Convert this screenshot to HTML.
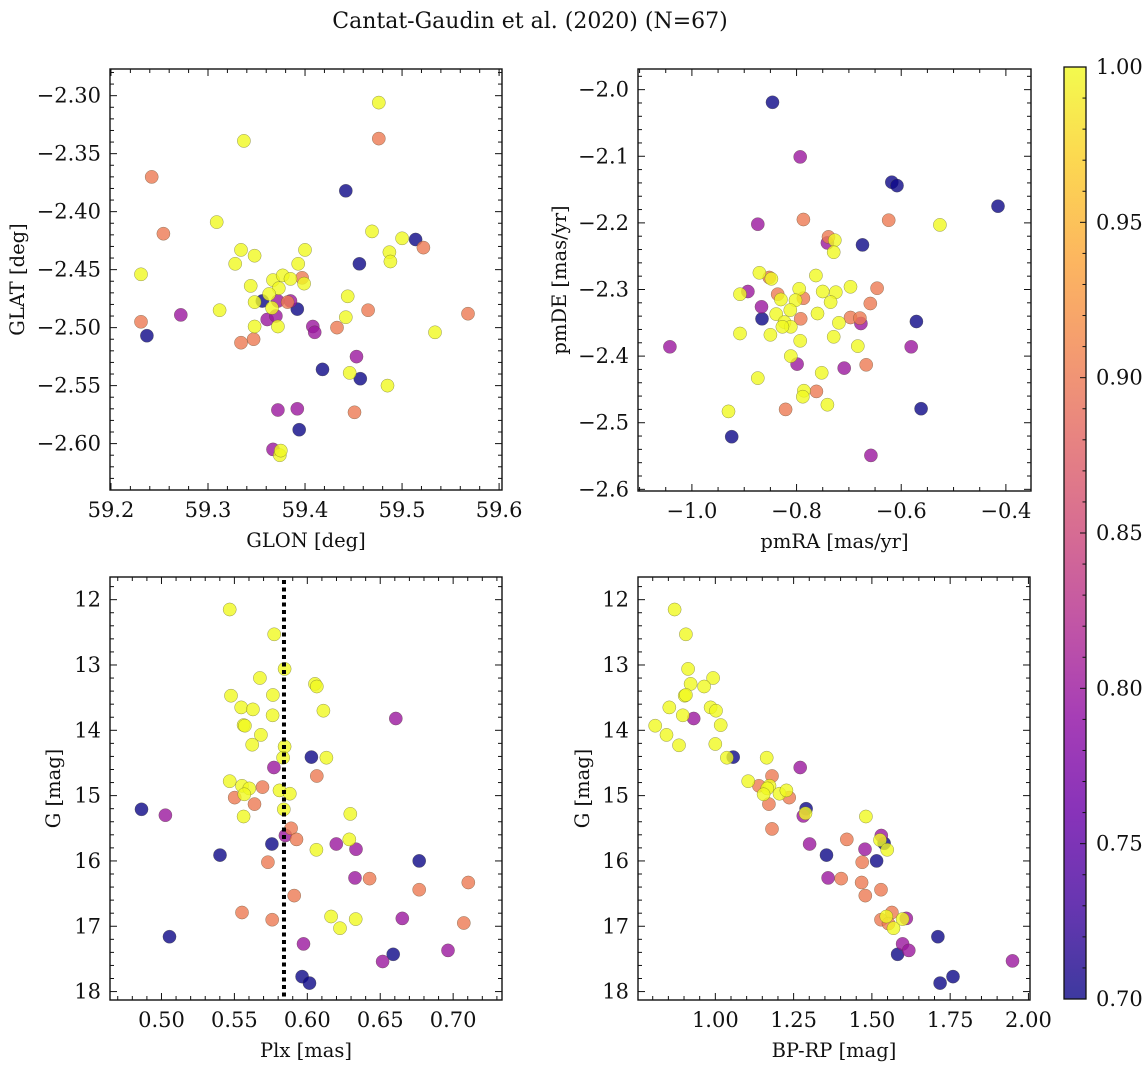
<!DOCTYPE html>
<html><head><meta charset="utf-8"><style>
html,body{margin:0;padding:0;background:#fff;}
svg{display:block;font-family:"DejaVu Serif","Liberation Serif",serif;}
</style></head><body>
<svg id="fig" width="1148" height="1067" viewBox="0 0 1148 1067" xmlns="http://www.w3.org/2000/svg">
<text x="530" y="28" text-anchor="middle" font-size="22" fill="#111">Cantat-Gaudin et al. (2020) (N=67)</text>
</svg>
<script>
// ---- Panel 1: GLON vs GLAT ----
const glonTL=[59.476,59.476,59.337,59.242,59.442,59.309,59.254,59.469,59.500,59.514,59.522,59.487,59.488,59.334,59.348,59.328,59.400,59.393,59.456,59.231,59.367,59.377,59.385,59.397,59.399,59.344,59.373,59.363,59.444,59.356,59.372,59.348,59.385,59.382,59.392,59.366,59.312,59.465,59.568,59.272,59.231,59.361,59.370,59.442,59.348,59.372,59.408,59.410,59.433,59.534,59.237,59.347,59.334,59.453,59.418,59.446,59.457,59.485,59.372,59.392,59.451,59.394,59.367,59.374,59.375];
const glatTL=[-2.306,-2.337,-2.339,-2.370,-2.382,-2.409,-2.419,-2.417,-2.423,-2.424,-2.431,-2.435,-2.443,-2.433,-2.438,-2.445,-2.433,-2.445,-2.445,-2.454,-2.459,-2.455,-2.458,-2.457,-2.462,-2.464,-2.466,-2.471,-2.473,-2.477,-2.477,-2.478,-2.477,-2.478,-2.484,-2.483,-2.485,-2.485,-2.488,-2.489,-2.495,-2.493,-2.490,-2.491,-2.499,-2.499,-2.499,-2.504,-2.500,-2.504,-2.507,-2.510,-2.513,-2.525,-2.536,-2.539,-2.544,-2.550,-2.571,-2.570,-2.573,-2.588,-2.605,-2.610,-2.606];
const probTL=[1,.9,1,.9,.7,1,.9,1,1,.7,.9,1,1,1,1,1,1,1,.7,1,1,1,1,.9,1,1,1,1,1,.7,.8,1,.8,.9,.7,1,1,.9,.9,.8,.9,.8,.8,1,1,1,.8,.8,.9,1,.7,.9,.9,.8,.7,1,.7,1,.8,.8,.9,.7,.8,1,1];
const ticksGlon=[59.2,59.3,59.4,59.5,59.6];
const ticksGlat=[-2.30,-2.35,-2.40,-2.45,-2.50,-2.55,-2.60];

// ---- Panel 2: pmRA vs pmDE ----
const pmraTR=[-0.846,-0.793,-0.618,-0.608,-0.415,-0.526,-0.624,-0.787,-0.874,-0.739,-0.741,-0.727,-0.729,-0.674,-0.871,-0.852,-0.848,-0.763,-0.646,-0.697,-0.795,-0.750,-0.725,-0.893,-0.908,-0.836,-0.787,-0.830,-0.802,-0.735,-0.659,-0.867,-0.812,-0.839,-0.760,-0.866,-0.792,-0.823,-0.811,-0.827,-0.719,-0.697,-0.677,-0.679,-0.571,-0.908,-0.850,-0.729,-0.793,-1.042,-0.683,-0.581,-0.811,-0.799,-0.667,-0.709,-0.752,-0.874,-0.762,-0.786,-0.788,-0.741,-0.821,-0.562,-0.930,-0.924,-0.658];
const pmdeTR=[-2.019,-2.101,-2.139,-2.144,-2.175,-2.203,-2.196,-2.195,-2.202,-2.221,-2.230,-2.226,-2.244,-2.233,-2.275,-2.282,-2.284,-2.279,-2.298,-2.296,-2.299,-2.303,-2.304,-2.303,-2.307,-2.307,-2.313,-2.315,-2.316,-2.319,-2.321,-2.326,-2.331,-2.337,-2.336,-2.344,-2.344,-2.349,-2.356,-2.356,-2.350,-2.342,-2.351,-2.343,-2.348,-2.366,-2.368,-2.371,-2.377,-2.386,-2.385,-2.386,-2.400,-2.412,-2.413,-2.418,-2.425,-2.433,-2.453,-2.452,-2.461,-2.473,-2.480,-2.479,-2.483,-2.521,-2.549];
const probTR=[.7,.8,.7,.7,.7,1,.9,.9,.8,.9,.8,1,1,.7,1,.9,1,1,.9,1,1,1,1,.8,1,.9,.9,1,1,1,.9,.8,1,1,1,.7,.9,1,1,1,1,.9,.8,.9,.7,1,1,1,1,.8,1,.8,1,.8,.9,.8,1,1,.9,1,1,1,.9,.7,1,.7,.8];
const ticksPmra=[-1.0,-0.8,-0.6,-0.4];
const ticksPmde=[-2.0,-2.1,-2.2,-2.3,-2.4,-2.5,-2.6];

// ---- Panel 3: Plx vs G ----
const plxBL=[0.5468,0.5773,0.5844,0.5675,0.6053,0.6065,0.5477,0.5764,0.5547,0.5627,0.6110,0.5762,0.6607,0.5563,0.5572,0.5682,0.5622,0.5844,0.5834,0.6028,0.6131,0.5771,0.6065,0.5468,0.5552,0.5602,0.5693,0.5568,0.5502,0.5809,0.5880,0.5638,0.4863,0.5027,0.5839,0.5563,0.6295,0.5889,0.5850,0.5926,0.6288,0.5757,0.6199,0.6062,0.6334,0.5401,0.5730,0.6767,0.6327,0.6427,0.6767,0.7104,0.5910,0.5552,0.5759,0.6163,0.6332,0.6651,0.7073,0.6224,0.5055,0.5974,0.6965,0.6589,0.6516,0.5964,0.6015];
const gBL=[12.15,12.53,13.06,13.20,13.29,13.33,13.47,13.46,13.65,13.68,13.70,13.77,13.82,13.92,13.93,14.07,14.22,14.25,14.42,14.41,14.42,14.57,14.70,14.78,14.85,14.89,14.87,14.98,15.03,14.92,14.97,15.13,15.21,15.30,15.21,15.32,15.28,15.50,15.61,15.67,15.67,15.74,15.74,15.83,15.82,15.91,16.02,16.00,16.26,16.27,16.44,16.33,16.53,16.79,16.90,16.85,16.89,16.88,16.95,17.03,17.16,17.27,17.37,17.43,17.54,17.77,17.87];
const probBL=[1,1,1,1,1,1,1,1,1,1,1,1,.8,1,1,1,1,1,1,.7,1,.8,.9,1,1,1,.9,1,.9,1,1,.9,.7,.8,1,1,1,.9,.8,.9,1,.7,.8,1,.8,.7,.9,.7,.8,.9,.9,.9,.9,.9,.9,1,1,.8,.9,1,.7,.8,.8,.7,.8,.7,.7];
const plxMean=[0.584];
const ticksPlx=[0.50,0.55,0.60,0.65,0.70];
const ticksG=[12,13,14,15,16,17,18];

// ---- Panel 4: BP-RP vs G ----
const bprpBR=[0.870,0.906,0.913,0.993,0.921,0.964,0.902,0.906,0.853,0.985,1.002,0.896,0.931,0.808,1.017,0.844,0.884,1.000,1.057,1.037,1.164,1.271,1.181,1.105,1.139,1.173,1.166,1.154,1.205,1.227,1.236,1.171,1.290,1.281,1.288,1.481,1.181,1.530,1.539,1.526,1.420,1.301,1.549,1.478,1.355,1.515,1.469,1.360,1.402,1.467,1.529,1.479,1.564,1.529,1.610,1.546,1.598,1.553,1.569,1.711,1.598,1.618,1.582,1.949,1.759,1.718];
const gBR=[12.15,12.53,13.06,13.20,13.29,13.33,13.47,13.46,13.65,13.65,13.70,13.77,13.82,13.93,13.92,14.07,14.23,14.21,14.41,14.42,14.42,14.57,14.70,14.78,14.85,14.85,14.89,14.98,14.97,14.92,15.03,15.13,15.20,15.31,15.27,15.32,15.51,15.61,15.73,15.68,15.67,15.74,15.83,15.82,15.91,16.00,16.02,16.26,16.27,16.33,16.44,16.53,16.79,16.90,16.88,16.85,16.89,16.96,17.03,17.16,17.27,17.37,17.43,17.53,17.77,17.87];
const probBR=[1,1,1,1,1,1,1,1,1,1,1,1,.8,1,1,1,1,1,.7,1,1,.8,.9,1,.9,1,1,1,1,1,.9,.9,.7,.8,1,1,.9,.8,.7,1,.9,.8,1,.8,.7,.7,.9,.8,.9,.9,.9,.9,.9,.9,.8,1,1,.9,1,.7,.8,.8,.7,.8,.7,.7];
const ticksBprp=[1.00,1.25,1.50,1.75,2.00];

// ---- Colorbar ----
const cbTicks=[0.70,0.75,0.80,0.85,0.90,0.95,1.00];
const cbMin=0.70, cbMax=1.00;

const NS="http://www.w3.org/2000/svg";
const svg=document.getElementById('fig');
function mk(tag,attrs,parent){const e=document.createElementNS(NS,tag);for(const k in attrs)e.setAttribute(k,attrs[k]);(parent||svg).appendChild(e);return e;}
const plasma=[[13,8,135],[65,4,157],[106,0,168],[143,13,164],[177,42,144],[204,71,120],[225,100,98],[242,132,75],[252,166,54],[252,206,37],[240,249,33]];
function cmap(p){let t=(p-cbMin)/(cbMax-cbMin);t=Math.max(0,Math.min(1,t));const f=t*10,i=Math.min(9,Math.floor(f)),u=f-i;const a=plasma[i],b=plasma[i+1];return 'rgb('+[0,1,2].map(k=>Math.round(a[k]+(b[k]-a[k])*u)).join(',')+')';}
function fmt(v,d){const s=Math.abs(v).toFixed(d);return (v<-1e-9?'\u2212':'')+s;}
const TICKFS=21, LABFS=19.5;

function panel(o){
  const g=mk('g',{});
  
  
  const sx=v=>o.x0+(v-o.xlim[0])/(o.xlim[1]-o.xlim[0])*(o.x1-o.x0);
  const sy=v=>o.y1-(v-o.ylim[0])/(o.ylim[1]-o.ylim[0])*(o.y1-o.y0);
  const clipId='clip-'+o.name;
  const cp=mk('clipPath',{id:clipId},g);
  mk('rect',{x:o.x0,y:o.y0,width:o.x1-o.x0,height:o.y1-o.y0},cp);
  const idx=o.xs.map((_,i)=>i).sort((a,b)=>o.ps[a]-o.ps[b]);
  const pg=mk('g',{'clip-path':'url(#'+clipId+')'},g);
  idx.forEach(i=>{
    const c=mk('circle',{cx:sx(o.xs[i]).toFixed(1),cy:sy(o.ys[i]).toFixed(1),r:6.6,fill:cmap(o.ps[i]),'fill-opacity':0.8,stroke:'rgba(70,70,40,0.55)','stroke-width':0.5},pg);
    
    
  });
  if(o.vline){o.vline.forEach(v=>{
    const l=mk('line',{x1:sx(v),x2:sx(v),y1:o.y0,y2:o.y1,stroke:'#000','stroke-width':4,'stroke-dasharray':'4,3.5'},pg);
    
    
  });}
  const fr=mk('rect',{x:o.x0,y:o.y0,width:o.x1-o.x0,height:o.y1-o.y0,fill:'none',stroke:'#111','stroke-width':1.4},g);
  
  
  const lo=Math.min(o.xlim[0],o.xlim[1]),hi=Math.max(o.xlim[0],o.xlim[1]);
  for(let k=Math.ceil(lo/o.xminor-1e-6);k*o.xminor<=hi+1e-9;k++){const v=k*o.xminor,x=sx(v);const maj=o.xt.some(t=>Math.abs(t-v)<o.xminor/10);const L=maj?7:4;
    mk('line',{x1:x,x2:x,y1:o.y1,y2:o.y1-L,stroke:'#111','stroke-width':1},g);mk('line',{x1:x,x2:x,y1:o.y0,y2:o.y0+L,stroke:'#111','stroke-width':1},g);}
  const ylo=Math.min(o.ylim[0],o.ylim[1]),yhi=Math.max(o.ylim[0],o.ylim[1]);
  for(let k=Math.ceil(ylo/o.yminor-1e-6);k*o.yminor<=yhi+1e-9;k++){const v=k*o.yminor,y=sy(v);const maj=o.yt.some(t=>Math.abs(t-v)<o.yminor/10);const L=maj?7:4;
    mk('line',{x1:o.x0,x2:o.x0+L,y1:y,y2:y,stroke:'#111','stroke-width':1},g);mk('line',{x1:o.x1,x2:o.x1-L,y1:y,y2:y,stroke:'#111','stroke-width':1},g);}
  o.xt.forEach(v=>{const t=mk('text',{x:sx(v),y:o.y1+27,'text-anchor':'middle','font-size':TICKFS,fill:'#111'},g);t.textContent=fmt(v,o.xd);
    
    });
  o.yt.forEach(v=>{const t=mk('text',{x:o.x0-9,y:sy(v)+7,'text-anchor':'end','font-size':TICKFS,fill:'#111'},g);t.textContent=fmt(v,o.yd);
    
    });
  const xl=mk('text',{x:(o.x0+o.x1)/2,y:o.y1+57,'text-anchor':'middle','font-size':LABFS,fill:'#111'},g);xl.textContent=o.xlabel;
  
  
  const yc=(o.y0+o.y1)/2;
  const yl=mk('text',{x:o.ylx,y:yc,'text-anchor':'middle','font-size':LABFS,fill:'#111',transform:'rotate(-90 '+o.ylx+' '+yc+')'},g);yl.textContent=o.ylabel;
  
  
}

panel({name:'glon-glat-panel',x0:110,x1:502,y0:69,y1:490,xlim:[59.199,59.603],ylim:[-2.640,-2.277],xs:glonTL,ys:glatTL,ps:probTL,xt:ticksGlon,yt:ticksGlat,xminor:0.02,yminor:0.01,xd:1,yd:2,xlabel:'GLON [deg]',ylabel:'GLAT [deg]',ylx:24});
panel({name:'proper-motion-panel',x0:638,x1:1031,y0:69,y1:491,xlim:[-1.103,-0.352],ylim:[-2.6025,-1.969],xs:pmraTR,ys:pmdeTR,ps:probTR,xt:ticksPmra,yt:ticksPmde,xminor:0.05,yminor:0.02,xd:1,yd:1,xlabel:'pmRA [mas/yr]',ylabel:'pmDE [mas/yr]',ylx:566});
panel({name:'parallax-mag-panel',x0:110,x1:502,y0:577,y1:1000,xlim:[0.4647,0.7335],ylim:[18.129,11.653],xs:plxBL,ys:gBL,ps:probBL,xt:ticksPlx,yt:ticksG,xminor:0.01,yminor:0.2,xd:2,yd:0,xlabel:'Plx [mas]',ylabel:'G [mag]',ylx:60});
panel({name:'color-magnitude-panel',x0:638,x1:1030,y0:577,y1:1000,xlim:[0.753,2.005],ylim:[18.129,11.653],xs:bprpBR,ys:gBR,ps:probBR,xt:ticksBprp,yt:ticksG,xminor:0.05,yminor:0.2,xd:2,yd:0,xlabel:'BP-RP [mag]',ylabel:'G [mag]',ylx:589});

// fix: bottom-left vertical line
(function(){
  const x0=110,x1=502,xl0=0.4647,xl1=0.7335;
  plxMean.forEach(v=>{
    const x=x0+(v-xl0)/(xl1-xl0)*(x1-x0);
    const l=mk('line',{x1:x,x2:x,y1:580,y2:1000,stroke:'#000','stroke-width':4,'stroke-dasharray':'4,3.5'});
    
    
  });
})();

// colorbar
(function(){
  const x0=1064,x1=1086,y0=67,y1=999;
  const g=mk('g',{});
  
  
  const defs=mk('defs',{},g);
  const lg=mk('linearGradient',{id:'cbgrad',x1:0,y1:1,x2:0,y2:0},defs);
  plasma.forEach((c,i)=>mk('stop',{offset:(i/10),'stop-color':'rgb('+c.join(',')+')'},lg));
  mk('rect',{x:x0,y:y0,width:x1-x0,height:y1-y0,fill:'url(#cbgrad)','fill-opacity':0.8},g);
  mk('rect',{x:x0,y:y0,width:x1-x0,height:y1-y0,fill:'none',stroke:'#111','stroke-width':1.3},g);
  const sy=v=>y1-(v-cbMin)/(cbMax-cbMin)*(y1-y0);
  for(let k=70;k<=100;k++){const y=sy(k/100);const maj=k%5===0;mk('line',{x1:x1,x2:x1-(maj?6:3.5),y1:y,y2:y,stroke:'#111','stroke-width':1},g);}
  cbTicks.forEach(v=>{const t=mk('text',{x:x1+10,y:sy(v)+7,'font-size':TICKFS,fill:'#111'},g);t.textContent=v.toFixed(2);
    
    });
})();
</script>
</body></html>
